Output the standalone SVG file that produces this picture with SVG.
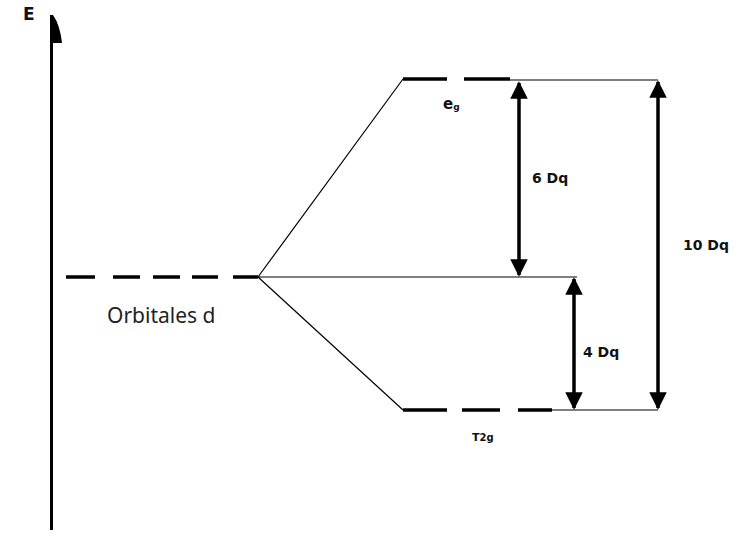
<svg xmlns="http://www.w3.org/2000/svg" width="735" height="537" viewBox="0 0 735 537">
<style>
.lvl{stroke:#000;stroke-width:3.5;fill:none}
.thin{stroke:#000;stroke-width:1.2;fill:none}
.arr{stroke:#000;stroke-width:3.5;fill:none}
.b{font-family:"DejaVu Sans","Liberation Sans",sans-serif;font-weight:bold;font-size:14px;fill:#111}
.r{font-family:"Noto Sans","Open Sans",sans-serif;font-size:21px;fill:#222}
</style>
<defs>
<marker id="ah" viewBox="0 0 10 10" refX="9" refY="5" markerWidth="5" markerHeight="5.5" markerUnits="strokeWidth" orient="auto-start-reverse">
<path d="M0,0 L10,5 L0,10 Z" fill="#000"/>
</marker>
</defs>
<rect width="735" height="537" fill="#fff"/>
<g id="axis">
<line x1="51.5" y1="18" x2="51.5" y2="530" stroke="#000" stroke-width="3"/>
<path d="M50,15 L53,15 Q60,25 62,43 L50,43 Z" fill="#000"/>
<text x="23" y="20" class="b" style="font-size:17px">E</text>
</g>
<g id="d-orbitals">
<path class="lvl" d="M66,277H95M113,277H140M153,277H180M192,277H218M233,277H258"/>
<text x="107" y="323" class="r">Orbitales d</text>
</g>
<g id="eg">
<path class="lvl" d="M403,79H447M464,79H510"/>
<text x="443" y="109" class="b" style="font-size:15px">e<tspan style="font-size:9px" dy="1">g</tspan></text>
</g>
<g id="t2g">
<path class="lvl" d="M403,410H447M462,410H500M518,410H552"/>
<text x="472" y="441" class="b" style="font-size:11px">T<tspan style="font-size:10px">2g</tspan></text>
</g>
<g id="connectors">
<path class="thin" d="M258,277L403,79M258,277L403,410M258,277H577M510,80H658M552,410H658"/>
<line class="arr" x1="519" y1="83" x2="519" y2="275" marker-start="url(#ah)" marker-end="url(#ah)"/>
<line class="arr" x1="574" y1="279" x2="574" y2="408" marker-start="url(#ah)" marker-end="url(#ah)"/>
<line class="arr" x1="658" y1="82" x2="658" y2="408" marker-start="url(#ah)" marker-end="url(#ah)"/>
</g>
<g id="labels">
<text x="532" y="183" class="b">6 Dq</text>
<text x="683" y="250" class="b">10 Dq</text>
<text x="583" y="357" class="b">4 Dq</text>
</g>
</svg>
